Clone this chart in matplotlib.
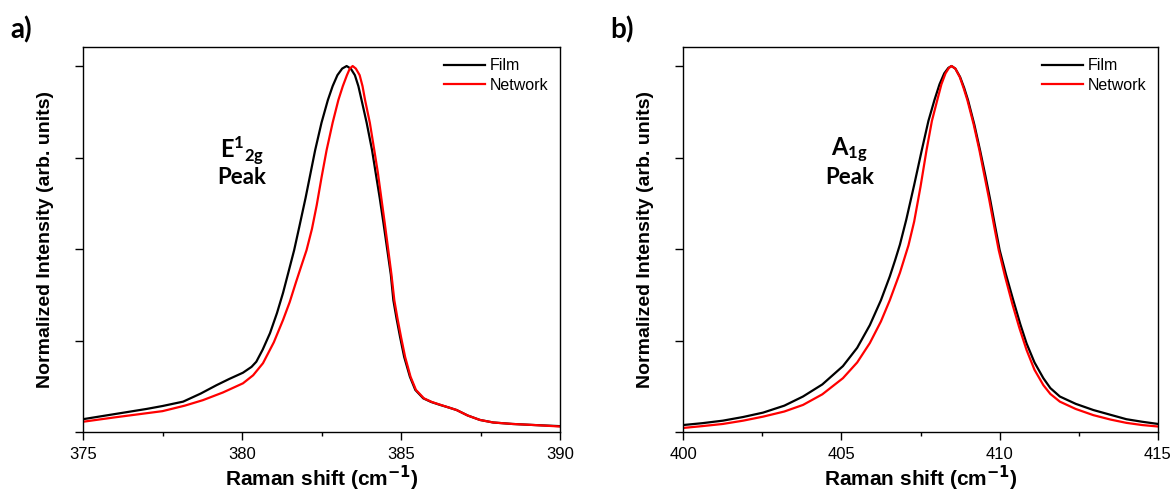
import matplotlib
matplotlib.use("Agg")
import matplotlib.pyplot as plt
from matplotlib.ticker import MultipleLocator, NullFormatter

plt.rcParams['font.family'] = ['Liberation Sans', 'DejaVu Sans']
plt.rcParams['mathtext.fontset'] = 'custom'
plt.rcParams['mathtext.rm'] = 'Lato:bold'
plt.rcParams['mathtext.it'] = 'Lato:bold'
plt.rcParams['mathtext.bf'] = 'Lato:bold'

# panel a) E1_2g peak
e2g_film_x = [375, 376, 377, 377.5, 378.15, 378.7, 379.2, 379.6, 380.03, 380.3, 380.45,
              380.65, 380.88, 381.1, 381.29, 381.47, 381.64, 381.8, 382.0, 382.15, 382.3,
              382.5, 382.7, 382.85, 383.0, 383.15, 383.29, 383.42, 383.55, 383.66, 383.76,
              383.92, 384.09, 384.2, 384.33, 384.45, 384.57, 384.68, 384.76, 384.86, 384.97,
              385.1, 385.28, 385.45, 385.7, 385.95, 386.23, 386.5, 386.75, 387.1, 387.48,
              387.9, 388.5, 389.2, 390]
e2g_film_y = [0.035, 0.049, 0.063, 0.071, 0.083, 0.105, 0.128, 0.145, 0.162, 0.178, 0.192,
              0.225, 0.27, 0.325, 0.38, 0.44, 0.497, 0.56, 0.64, 0.705, 0.77,
              0.845, 0.907, 0.945, 0.975, 0.993, 1.0, 0.993, 0.975, 0.945, 0.907,
              0.845, 0.77, 0.71, 0.64, 0.57, 0.497, 0.43, 0.36, 0.31, 0.26,
              0.205, 0.151, 0.115, 0.092, 0.082, 0.074, 0.067, 0.06, 0.045, 0.033,
              0.026, 0.022, 0.019, 0.016]
e2g_net_x = [375, 376, 377.5, 378.2, 378.77, 379.4, 380.03, 380.35, 380.66, 381.0, 381.29,
             381.5, 381.7, 381.87, 382.03, 382.2, 382.35, 382.5, 382.66, 382.85, 383.03,
             383.17, 383.3, 383.39, 383.48, 383.58, 383.7, 383.79, 383.87, 384.02, 384.16,
             384.27, 384.38, 384.49, 384.6, 384.7, 384.79, 384.89, 385.0, 385.13, 385.3,
             385.47, 385.72, 385.97, 386.25, 386.5, 386.75, 387.1, 387.48, 387.9, 388.5,
             389.2, 390]
e2g_net_y = [0.028, 0.04, 0.057, 0.072, 0.087, 0.108, 0.133, 0.155, 0.188, 0.245, 0.306,
             0.355, 0.41, 0.455, 0.497, 0.555, 0.62, 0.695, 0.77, 0.845, 0.907,
             0.945, 0.975, 0.993, 1.0, 0.993, 0.975, 0.945, 0.907, 0.845, 0.77,
             0.71, 0.64, 0.57, 0.497, 0.43, 0.36, 0.31, 0.26, 0.205, 0.151,
             0.115, 0.092, 0.082, 0.074, 0.067, 0.06, 0.045, 0.033, 0.026, 0.022,
             0.019, 0.015]

# panel b) A1g peak
a1g_film_x = [400, 400.6, 401.26, 401.9, 402.53, 403.2, 403.79, 404.4, 405.05, 405.5,
              405.9, 406.25, 406.53, 406.7, 406.85, 407.05, 407.3, 407.54, 407.75, 407.94,
              408.1, 408.25, 408.38, 408.48, 408.6, 408.75, 408.88, 409.0, 409.2, 409.38,
              409.55, 409.7, 409.85, 410.0, 410.2, 410.43, 410.65, 410.85, 411.1, 411.38,
              411.6, 411.9, 412.4, 412.96, 413.5, 414.0, 414.5, 415]
a1g_film_y = [0.019, 0.024, 0.031, 0.041, 0.053, 0.072, 0.097, 0.13, 0.18, 0.23,
              0.292, 0.36, 0.425, 0.47, 0.512, 0.58, 0.675, 0.77, 0.85, 0.907,
              0.95, 0.98, 0.995, 1.0, 0.993, 0.97, 0.94, 0.907, 0.84, 0.77,
              0.70, 0.635, 0.565, 0.497, 0.43, 0.36, 0.295, 0.242, 0.19, 0.147,
              0.12, 0.097, 0.077, 0.06, 0.047, 0.035, 0.028, 0.022]
a1g_net_x = [400, 400.6, 401.26, 401.9, 402.53, 403.2, 403.79, 404.4, 405.05, 405.5,
             405.9, 406.25, 406.53, 406.85, 407.12, 407.3, 407.5, 407.69, 407.86, 408.03,
             408.16, 408.29, 408.4, 408.48, 408.6, 408.74, 408.86, 408.98, 409.18, 409.36,
             409.52, 409.67, 409.82, 409.97, 410.17, 410.4, 410.62, 410.85, 411.1, 411.38,
             411.6, 411.9, 412.4, 412.96, 413.5, 414.0, 414.5, 415]
a1g_net_y = [0.011, 0.016, 0.022, 0.031, 0.042, 0.056, 0.074, 0.103, 0.147, 0.19,
             0.243, 0.302, 0.36, 0.435, 0.51, 0.575, 0.67, 0.77, 0.85, 0.907,
             0.95, 0.98, 0.995, 1.0, 0.993, 0.97, 0.94, 0.907, 0.84, 0.77,
             0.70, 0.635, 0.565, 0.497, 0.425, 0.35, 0.285, 0.224, 0.17, 0.128,
             0.104, 0.083, 0.063, 0.046, 0.034, 0.025, 0.019, 0.015]

fig = plt.figure(figsize=(11.75, 4.95), dpi=100)
ax1 = fig.add_axes([83 / 1175, 63 / 495, 477 / 1175, 385 / 495])
ax2 = fig.add_axes([683 / 1175, 63 / 495, 475 / 1175, 385 / 495])

panels = [
    (ax1, e2g_film_x, e2g_film_y, e2g_net_x, e2g_net_y, (375, 390), "a)",
     r"$\mathrm{E^{1}{}_{2g}}$", 380.0),
    (ax2, a1g_film_x, a1g_film_y, a1g_net_x, a1g_net_y, (400, 415), "b)",
     r"$\mathrm{A_{1g}}$", 405.25),
]

for ax, fx, fy, nx, ny, xlim, tag, peak, px in panels:
    ax.plot(fx, fy, color='black', lw=1.6, label='Film')
    ax.plot(nx, ny, color='#ff0000', lw=1.6, label='Network')
    ax.set_xlim(*xlim)
    ax.set_ylim(0, 1.052)
    ax.xaxis.set_major_locator(MultipleLocator(5))
    ax.xaxis.set_minor_locator(MultipleLocator(2.5))
    ax.yaxis.set_major_locator(MultipleLocator(0.25))
    ax.yaxis.set_major_formatter(NullFormatter())
    ax.tick_params(axis='both', which='major', direction='out', length=6, width=1,
                   labelsize=12, pad=5)
    ax.tick_params(axis='x', which='minor', direction='out', length=3, width=1)
    for s in ax.spines.values():
        s.set_linewidth(1.0)
    ax.set_xlabel(r"Raman shift (cm$^{\mathbf{-1}}$)", fontsize=15, fontweight='bold',
                  math_fontfamily='dejavusans', labelpad=1)
    ax.set_ylabel("Normalized Intensity (arb. units)", fontsize=14, fontweight='bold',
                  labelpad=10)
    ax.legend(loc='upper right', bbox_to_anchor=(1.0, 1.0), frameon=False,
              fontsize=11.5, handlelength=2.6, handletextpad=0.3, labelspacing=0.3,
              borderaxespad=0.3)
    ax.text(px, 0.77, peak, fontsize=17, ha='center', va='center')
    ax.text(px, 0.695, "Peak", fontsize=16, fontfamily='Lato', fontweight='bold',
            ha='center', va='center')
    pos = ax.get_position()
    fig.text(pos.x0 - 73 / 1175, 1 - 30 / 495, tag, fontsize=20, fontfamily='Lato',
             fontweight='bold', ha='left', va='center')

fig.savefig("out.png", dpi=100)
